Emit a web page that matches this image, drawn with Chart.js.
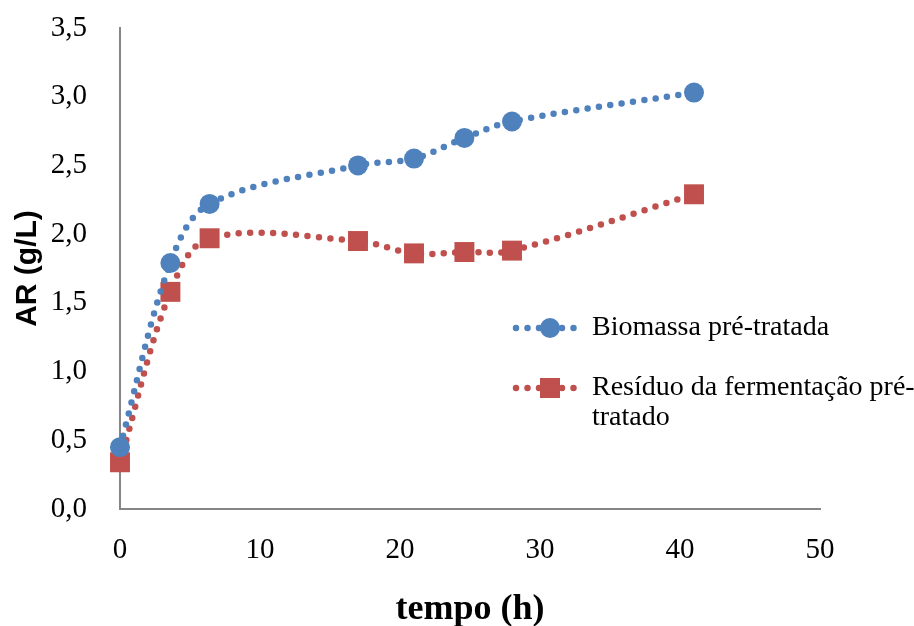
<!DOCTYPE html>
<html>
<head>
<meta charset="utf-8">
<script src="https://cdn.jsdelivr.net/npm/chart.js@4/dist/chart.umd.min.js"></script>
<style>
    html, body { margin: 0; padding: 0; background: #ffffff; }
    #wrap { width: 914px; height: 626px; }
</style>
</head>
<body>
<div id="wrap"><canvas id="chart" width="914" height="626"></canvas></div>
<script>
// Data
const tempoH = [0, 3.6, 6.4, 17, 21, 24.6, 28, 41];
const biomassaPre = [0.45, 1.79, 2.22, 2.50, 2.55, 2.70, 2.82, 3.03];
const residuoFerm = [0.34, 1.58, 1.97, 1.95, 1.86, 1.87, 1.88, 2.29];

const seriesLabels = ['Biomassa pré-tratada', 'Resíduo da fermentação pré-tratado'];
const legendLines = [['Biomassa pré-tratada'], ['Resíduo da fermentação pré-', 'tratado']];

const BLUE = '#4F81BD';
const RED = '#C0504D';
const AXIS = '#868686';
const SERIF = '"Liberation Serif", "Times New Roman", serif';
const DOT_W = 6.5;
const DOT_GAP = 11.5;

function toPoints(xs, ys) {
    return xs.map((x, i) => ({ x: x, y: ys[i] }));
}

// Legend drawn on the canvas, Excel style: dotted line with marker in the middle
const sideLegend = {
    id: 'sideLegend',
    afterDraw(chart) {
        const ctx = chart.ctx;
        const items = [
            { color: BLUE, style: 'circle', y: 328 },
            { color: RED, style: 'rect', y: 388 }
        ];
        ctx.save();
        items.forEach((item, idx) => {
            ctx.strokeStyle = item.color;
            ctx.fillStyle = item.color;
            ctx.lineWidth = DOT_W;
            ctx.lineCap = 'round';
            ctx.setLineDash([0, DOT_GAP]);
            ctx.beginPath();
            ctx.moveTo(516, item.y);
            ctx.lineTo(576, item.y);
            ctx.stroke();
            ctx.setLineDash([]);
            ctx.beginPath();
            if (item.style === 'circle') {
                ctx.arc(550, item.y, 10, 0, Math.PI * 2);
                ctx.fill();
            } else {
                ctx.fillRect(540, item.y - 10, 20, 20);
            }
            ctx.fillStyle = '#000000';
            ctx.font = '28px ' + SERIF;
            ctx.textBaseline = 'middle';
            ctx.textAlign = 'left';
            legendLines[idx].forEach((line, j) => {
                ctx.fillText(line, 592, item.y + j * 30);
            });
        });
        ctx.restore();
    }
};

new Chart(document.getElementById('chart').getContext('2d'), {
    type: 'scatter',
    data: {
        datasets: [{
            label: seriesLabels[0],
            data: toPoints(tempoH, biomassaPre),
            showLine: true,
            borderColor: BLUE,
            backgroundColor: BLUE,
            borderWidth: DOT_W,
            borderDash: [0, DOT_GAP],
            borderCapStyle: 'round',
            tension: 0.35,
            pointStyle: 'circle',
            pointRadius: 10,
            pointHoverRadius: 10,
            pointBorderWidth: 0,
            clip: false
        }, {
            label: seriesLabels[1],
            data: toPoints(tempoH, residuoFerm),
            showLine: true,
            borderColor: RED,
            backgroundColor: RED,
            borderWidth: DOT_W,
            borderDash: [0, DOT_GAP],
            borderCapStyle: 'round',
            tension: 0.35,
            pointStyle: 'rect',
            pointRadius: 14.1,
            pointHoverRadius: 14.1,
            pointBorderWidth: 0,
            clip: false
        }]
    },
    options: {
        responsive: false,
        animation: false,
        layout: {
            padding: { left: 0, right: 94, top: 28, bottom: 0 }
        },
        plugins: {
            legend: { display: false },
            tooltip: { enabled: false }
        },
        scales: {
            x: {
                type: 'linear',
                min: 0,
                max: 50,
                afterFit(scale) {
                    scale.height = 117;
                    scale.paddingLeft = 0;
                    scale.paddingRight = 0;
                },
                grid: { display: false },
                border: { display: true, color: AXIS, width: 2 },
                ticks: {
                    stepSize: 10,
                    color: '#000000',
                    padding: 16,
                    maxRotation: 0,
                    font: { family: SERIF, size: 29 }
                },
                title: {
                    display: true,
                    text: 'tempo (h)',
                    color: '#000000',
                    padding: { top: 0, bottom: 1 },
                    font: { family: SERIF, size: 36, weight: 'bold', lineHeight: 0.85 }
                }
            },
            y: {
                type: 'linear',
                min: 0,
                max: 3.5,
                afterFit(scale) {
                    scale.width = 120;
                    scale.paddingTop = 0;
                    scale.paddingBottom = 0;
                },
                grid: { display: false },
                border: { display: true, color: AXIS, width: 2 },
                ticks: {
                    stepSize: 0.5,
                    color: '#000000',
                    padding: 25,
                    font: { family: SERIF, size: 29 },
                    callback: (v) => v.toFixed(1).replace('.', ',')
                },
                title: {
                    display: true,
                    text: 'AR (g/L)',
                    color: '#000000',
                    padding: { top: 10, bottom: 0 },
                    font: { family: '"Liberation Sans", Arial, sans-serif', size: 30, weight: 'bold', lineHeight: 1.2 }
                }
            }
        }
    },
    plugins: [sideLegend]
});
</script>
</body>
</html>
